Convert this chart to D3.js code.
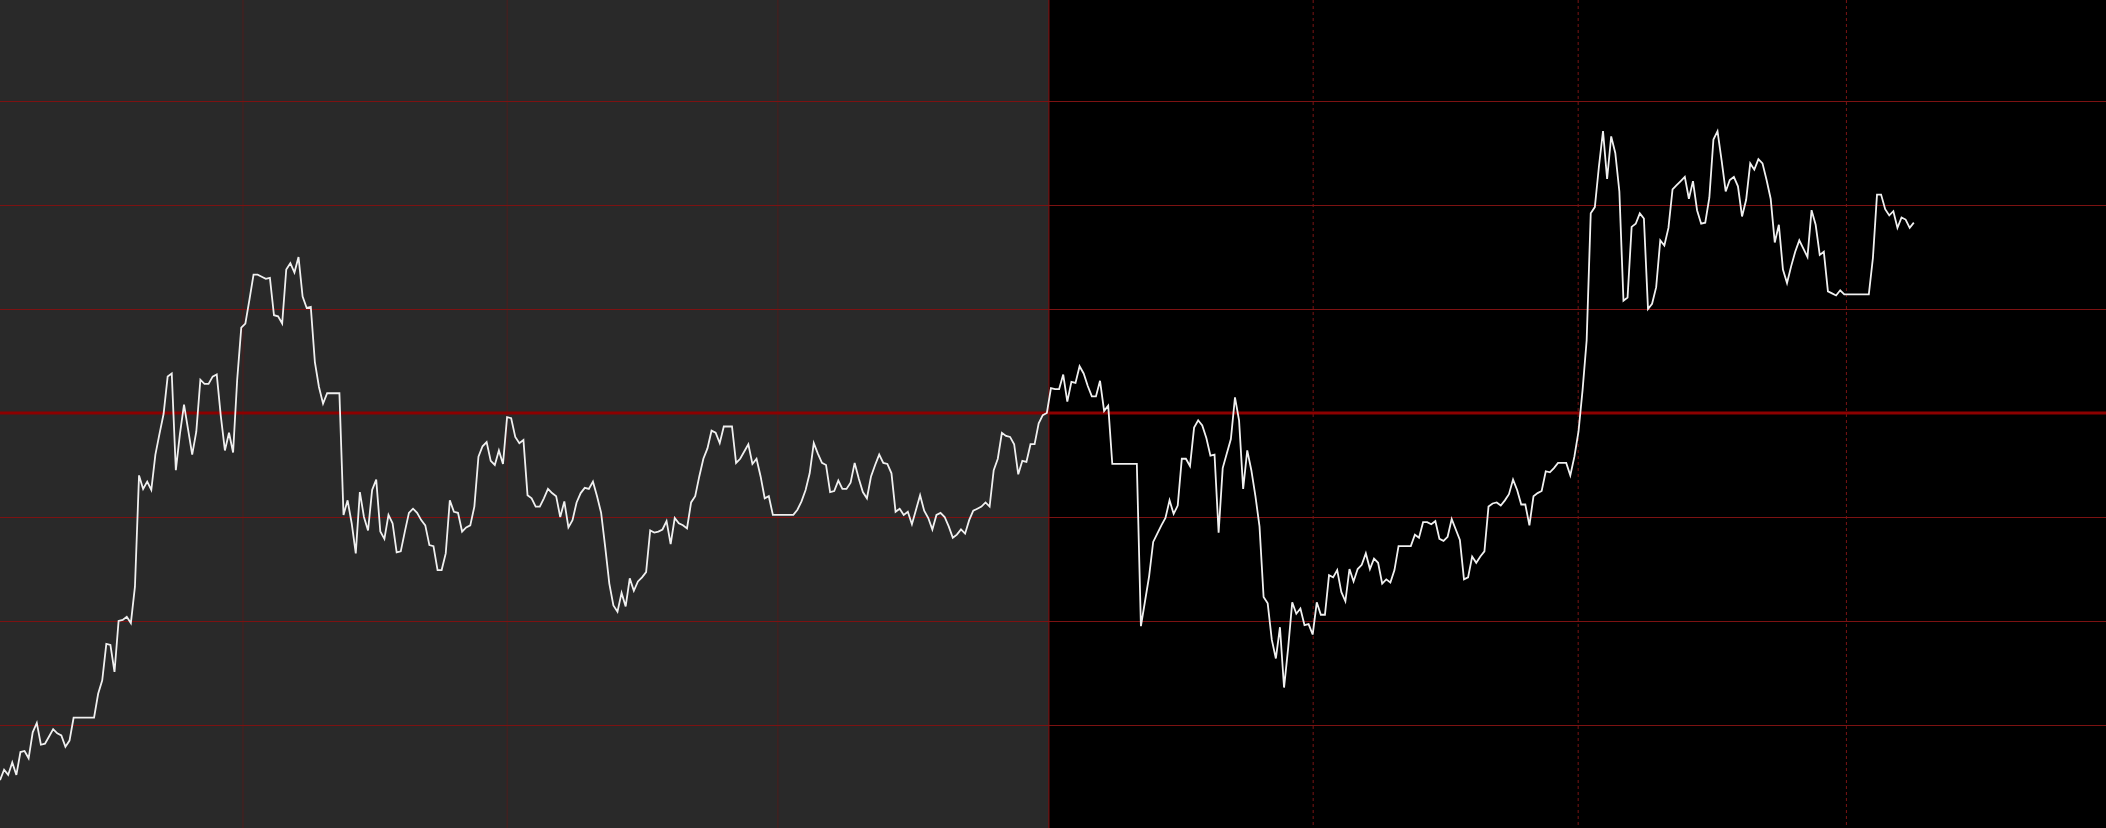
<!DOCTYPE html>
<html>
<head>
<meta charset="utf-8">
<script src="https://cdn.jsdelivr.net/npm/d3@7"></script>
<style>
  html, body { margin: 0; padding: 0; background: #000; overflow: hidden; }
  svg { display: block; }
</style>
</head>
<body>
<div id="root"></div>
<script>
const width = 2106;
const height = 828;

// Daily closes, one value per trading day
const values = [
  64.7, 65.7, 65.2, 66.4, 65.2, 67.4, 67.5, 66.8, 69.3, 70.2, 68.1, 68.2, 68.9, 69.6, 69.2, 69.0, 67.9, 68.5, 70.7, 70.7,
  70.7, 70.7, 70.7, 70.7, 73.0, 74.3, 77.8, 77.7, 75.1, 80.0, 80.1, 80.4, 79.8, 83.3, 94.0, 92.7, 93.4, 92.6, 96.0, 98.0,
  99.9, 103.5, 103.8, 94.5, 98.0, 100.8, 98.4, 96.0, 98.2, 103.2, 102.8, 102.8, 103.5, 103.7, 99.7, 96.4, 98.1, 96.2, 103.2, 108.2,
  108.6, 110.9, 113.3, 113.3, 113.1, 112.9, 113.0, 109.4, 109.3, 108.6, 113.8, 114.4, 113.5, 115.0, 111.2, 110.1, 110.2, 104.9, 102.5, 100.9,
  101.9, 101.9, 101.9, 101.9, 90.2, 91.6, 89.4, 86.5, 92.4, 90.0, 88.7, 92.6, 93.6, 88.6, 87.9, 90.2, 89.4, 86.6, 86.7, 88.6,
  90.4, 90.8, 90.4, 89.7, 89.2, 87.3, 87.2, 84.9, 84.9, 86.5, 91.6, 90.5, 90.4, 88.6, 89.0, 89.2, 91.0, 95.8, 96.8, 97.2,
  95.4, 95.0, 96.4, 95.1, 99.6, 99.5, 97.7, 97.1, 97.4, 92.1, 91.8, 91.0, 91.0, 91.8, 92.7, 92.3, 92.0, 90.0, 91.5, 89.0,
  89.7, 91.4, 92.3, 92.8, 92.7, 93.4, 92.0, 90.4, 87.1, 83.6, 81.5, 80.9, 82.7, 81.4, 84.1, 82.9, 83.8, 84.2, 84.7, 88.7,
  88.5, 88.6, 88.8, 89.6, 87.4, 89.9, 89.4, 89.2, 88.9, 91.4, 92.0, 93.9, 95.6, 96.6, 98.3, 98.1, 97.1, 98.7, 98.7, 98.7,
  95.2, 95.6, 96.3, 97.0, 95.1, 95.6, 93.9, 91.8, 92.0, 90.2, 90.2, 90.2, 90.2, 90.2, 90.2, 90.7, 91.5, 92.6, 94.2, 97.1,
  96.1, 95.2, 95.0, 92.4, 92.5, 93.5, 92.7, 92.7, 93.3, 95.2, 93.7, 92.4, 91.8, 93.9, 95.0, 96.0, 95.2, 95.1, 94.2, 90.5,
  90.8, 90.2, 90.5, 89.3, 90.7, 92.1, 90.6, 89.9, 88.8, 90.2, 90.4, 90.0, 89.1, 88.0, 88.3, 88.8, 88.4, 89.7, 90.6, 90.8,
  91.0, 91.4, 91.0, 94.5, 95.6, 98.1, 97.8, 97.7, 97.0, 94.1, 95.4, 95.3, 97.0, 97.0, 99.0, 99.8, 100.0, 102.4, 102.3, 102.3,
  103.7, 101.1, 103.0, 102.9, 104.5, 103.8, 102.6, 101.6, 101.6, 103.1, 100.2, 100.7, 95.1, 95.1, 95.1, 95.1, 95.1, 95.1, 95.1, 79.5,
  81.9, 84.3, 87.6, 88.4, 89.2, 89.9, 91.6, 90.3, 91.1, 95.6, 95.6, 94.9, 98.6, 99.3, 98.8, 97.6, 95.9, 96.0, 88.5, 94.7,
  96.1, 97.5, 101.5, 99.3, 92.7, 96.4, 94.5, 92.0, 89.1, 82.3, 81.7, 78.2, 76.4, 79.4, 73.6, 77.4, 81.8, 80.7, 81.2, 79.6,
  79.7, 78.7, 81.8, 80.6, 80.6, 84.4, 84.2, 84.9, 82.8, 81.9, 85.0, 83.8, 85.0, 85.4, 86.5, 85.0, 86.0, 85.6, 83.6, 84.0,
  83.7, 84.9, 87.2, 87.2, 87.2, 87.2, 88.3, 88.0, 89.5, 89.5, 89.3, 89.6, 87.9, 87.7, 88.1, 89.8, 88.8, 87.8, 84.0, 84.2,
  86.2, 85.6, 86.2, 86.7, 91.0, 91.3, 91.4, 91.1, 91.6, 92.2, 93.6, 92.6, 91.2, 91.2, 89.2, 92.0, 92.3, 92.5, 94.4, 94.3,
  94.7, 95.2, 95.2, 95.2, 94.0, 95.8, 98.2, 102.2, 107.0, 119.2, 119.8, 123.7, 127.1, 122.5, 126.6, 125.0, 121.3, 110.8, 111.1, 117.9,
  118.2, 119.2, 118.7, 110.0, 110.5, 112.1, 116.6, 116.1, 117.8, 121.5, 121.9, 122.3, 122.7, 120.6, 122.3, 119.5, 118.2, 118.3, 120.7, 126.3,
  127.1, 124.3, 121.3, 122.4, 122.7, 121.8, 118.9, 120.5, 124.0, 123.4, 124.4, 124.0, 122.4, 120.6, 116.4, 118.1, 113.8, 112.5, 114.1, 115.5,
  116.6, 115.8, 115.0, 119.5, 118.1, 115.2, 115.5, 111.7, 111.5, 111.3, 111.8, 111.4, 111.4, 111.4, 111.4, 111.4, 111.4, 111.4, 114.9, 121.0,
  121.0, 119.6, 119.0, 119.4, 117.8, 118.8, 118.6, 117.8, 118.3
];

// Price levels for horizontal grid, reference level drawn heavier
const priceLevels = [70, 80, 90, 110, 120, 130];
const referenceLevel = 100;

// Quarter boundaries (in trading-day index), and the start of the current year
const quarterTicks = [59.3, 123.9, 190.1, 321, 385.8, 451.4];
const yearStart = 256.5;
const dayCount = 515;

const x = d3.scaleLinear().domain([0, dayCount]).range([0, width]);
const y = d3.scaleLinear().domain([60, 140]).range([829, -3]);

const chart = d3.select('#root')
  .append('svg:svg')
  .attr('width', width)
  .attr('height', height);

// Backgrounds: last year grey, this year black
chart.append('rect')
  .attr('x', 0).attr('y', 0)
  .attr('width', x(yearStart)).attr('height', height)
  .attr('fill', '#292929');
chart.append('rect')
  .attr('x', x(yearStart)).attr('y', 0)
  .attr('width', width - x(yearStart)).attr('height', height)
  .attr('fill', '#000');

// Vertical quarter lines
const xGrid = chart.append('g')
  .call(d3.axisBottom(x).tickValues(quarterTicks).tickSize(height).tickFormat(''));
xGrid.select('.domain').remove();
xGrid.selectAll('.tick line')
  .attr('stroke', d => d < yearStart ? '#4e1c1c' : '#7a1414')
  .attr('stroke-dasharray', d => d < yearStart ? null : '3,3');

// Horizontal price lines
const yGrid = chart.append('g')
  .call(d3.axisRight(y).tickValues(priceLevels).tickSize(width).tickFormat(''));
yGrid.select('.domain').remove();
yGrid.selectAll('.tick line').attr('stroke', '#7c1212');

chart.append('line')
  .attr('x1', 0).attr('x2', width)
  .attr('y1', y(referenceLevel)).attr('y2', y(referenceLevel))
  .attr('stroke', '#8c0000')
  .attr('stroke-width', 3);

// Year boundary
chart.append('line')
  .attr('x1', x(yearStart)).attr('x2', x(yearStart))
  .attr('y1', 0).attr('y2', height)
  .attr('stroke', '#8a1010')
  .attr('stroke-width', 1);

// Price line
const line = d3.line()
  .x((d, i) => x(i))
  .y(d => y(d));

chart.append('path')
  .datum(values)
  .attr('d', line)
  .attr('fill', 'none')
  .attr('stroke', '#f0f0f0')
  .attr('stroke-width', 1.8);
</script>
</body>
</html>
